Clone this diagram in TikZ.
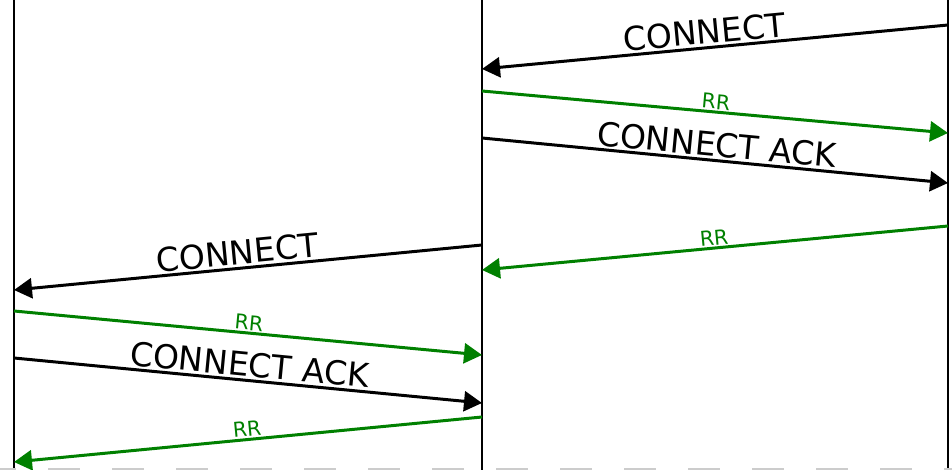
\documentclass[tikz,border=0pt]{standalone}
\usepackage{fontspec}
\setmainfont{DejaVu Sans}
\usetikzlibrary{arrows.meta}

\begin{document}
\begin{tikzpicture}[x=1pt, y=-1pt,
		msg/.style={line width=3pt, -{Triangle[length=18pt, width=20pt]}},
		ack/.style={msg, green!50!black},
		big/.style={font=\fontsize{33}{33}\selectfont, sloped, above, inner sep=2pt},
		small/.style={font=\fontsize{20.5}{20.5}\selectfont, sloped, above, inner sep=1.5pt, green!50!black}]
			\useasboundingbox (0,0) rectangle (952,470);
			% lifelines
			\coordinate (L) at (14,0);
			\coordinate (M) at (482,0);
			\coordinate (R) at (948,0);
			\draw[line width=2.2pt] (L) -- (14,470);
			\draw[line width=2.2pt] (M) -- (482,470);
			\draw[line width=2.2pt] (R) -- (948,470);
			\draw[line width=2.5pt, gray!40, dash pattern=on 32pt off 32pt, dash phase=16pt] (0,469) -- (952,469);
			% right hop
			\coordinate (r1) at (948,25);   \coordinate (m1) at (482,69);
			\coordinate (m2) at (482,91);   \coordinate (r2) at (948,133);
			\coordinate (m3) at (482,138);  \coordinate (r3) at (948,183);
			\coordinate (r4) at (948,226);  \coordinate (m4) at (482,270);
			\draw[msg] (r1) -- node[big, pos=0.52] {CONNECT} (m1);
			\draw[ack] (m2) -- node[small] {RR} (r2);
			\draw[msg] (m3) -- node[big] {CONNECT ACK} (r3);
			\draw[ack] (r4) -- node[small] {RR} (m4);
			% left hop
			\coordinate (m5) at (482,245);  \coordinate (l5) at (14,290);
			\coordinate (l6) at (14,311);   \coordinate (m6) at (482,355);
			\coordinate (l7) at (14,358);   \coordinate (m7) at (482,403);
			\coordinate (m8) at (482,417);  \coordinate (l8) at (14,462);
			\draw[msg] (m5) -- node[big, pos=0.52] {CONNECT} (l5);
			\draw[ack] (l6) -- node[small] {RR} (m6);
			\draw[msg] (l7) -- node[big] {CONNECT ACK} (m7);
			\draw[ack] (m8) -- node[small] {RR} (l8);
		\end{tikzpicture}
\end{document}
